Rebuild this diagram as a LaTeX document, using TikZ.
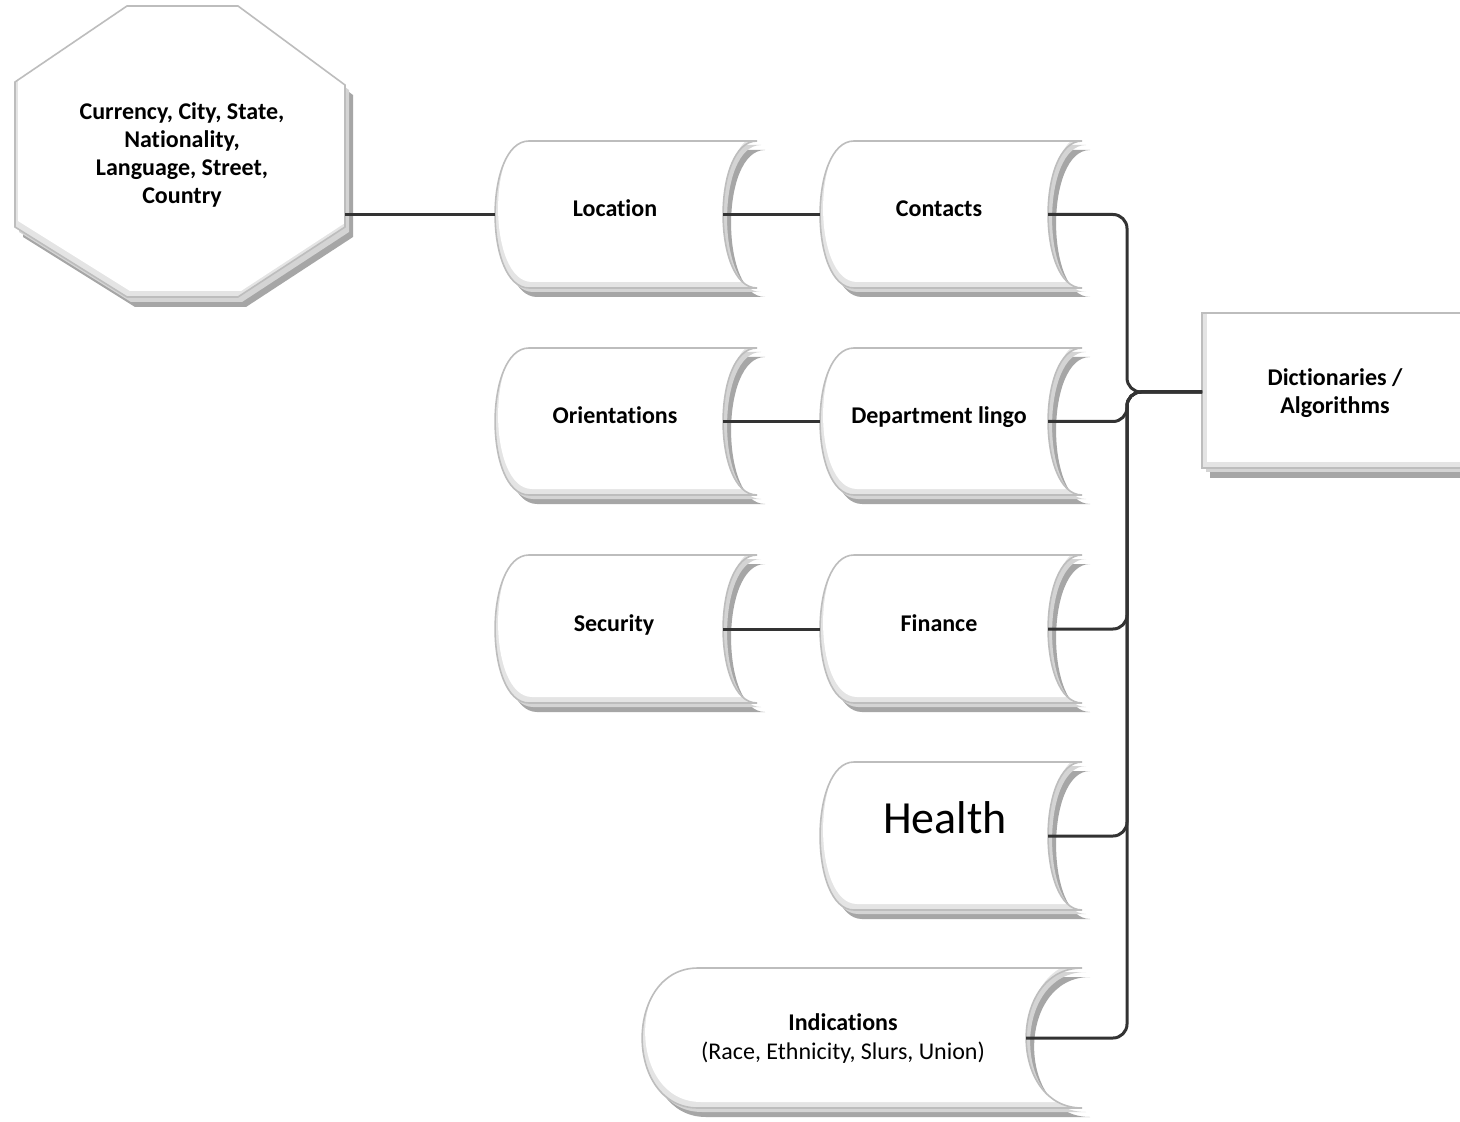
\documentclass[tikz,border=0pt]{standalone}
\usepackage{fontspec}
\setmainfont{Carlito}[Ligatures=NoCommon]
\definecolor{shdark}{HTML}{A6A6A6}
\definecolor{shlight}{HTML}{D4D4D4}
\definecolor{rimgray}{HTML}{E4E4E4}
\definecolor{edgegray}{HTML}{BDBDBD}
\definecolor{conncol}{HTML}{333333}
\tikzset{
  lbl/.style={font=\bfseries\fontsize{12}{14}\selectfont, align=center, inner sep=0pt},
  onelbl/.style={lbl, text height=8.6pt, text depth=2.6pt},
  plainlbl/.style={font=\fontsize{12}{14}\selectfont, align=center, inner sep=0pt, text height=8.6pt, text depth=2.6pt},
  conn/.style={draw=conncol, line width=1.5pt, rounded corners=7pt},
  outl/.style={draw=edgegray, line width=0.8pt}
}
% stored-data path: L T R B d
\newcommand\stpath[5]{(#1+#5,#2) -- (#3,#2) .. controls ({#3-1.33*#5},#2) and ({#3-1.33*#5},#4) .. (#3,#4) -- (#1+#5,#4) .. controls ({#1-0.33*#5},#4) and ({#1-0.33*#5},#2) .. (#1+#5,#2) -- cycle}
% store shape: name L T R B d
\newcommand\storeshape[6]{%
  \fill[shdark, shift={(8,9)}] \stpath{#2}{#3}{#4}{#5}{#6};
  \fill[shlight, shift={(4,4)}] \stpath{#2}{#3}{#4}{#5}{#6};
  \fill[rimgray] \stpath{#2}{#3}{#4}{#5}{#6};
  \begin{scope}
    \clip \stpath{#2}{#3}{#4}{#5}{#6};
    \fill[white, shift={(3,-6)}] \stpath{#2}{#3}{#4}{#5}{#6};
  \end{scope}
  \draw[outl] \stpath{#2}{#3}{#4}{#5}{#6};
  \coordinate (#1-w) at (#2,{(#3+#5)/2});
  \coordinate (#1-e) at ({#4-#6},{(#3+#5)/2});
}
\begin{document}
\begin{tikzpicture}[x=0.5pt, y=-0.5pt]
\useasboundingbox (0,0) rectangle (1460,1122);
\fill[white] (0,0) rectangle (1460,1122);

% octagon
\newcommand\octpath{(127,6) -- (238,6) -- (345,85) -- (345,227) -- (238,297) -- (127,297) -- (15,227) -- (15,82) -- cycle}
\fill[shdark, shift={(8,10)}] \octpath;
\fill[shlight, shift={(4,5)}] \octpath;
\fill[rimgray] \octpath;
\begin{scope}
  \clip \octpath;
  \fill[white, shift={(3,-6)}] \octpath;
\end{scope}
\draw[outl] \octpath;
\node[lbl] (oct) at (182,155) {Currency, City, State,\\Nationality,\\Language, Street,\\Country};
\coordinate (oct-e) at (345,214.5);

% dictionaries box
\fill[shdark] (1210,323) rectangle (1470,478);
\fill[shlight] (1206,317) rectangle (1464,472);
\fill[rimgray] (1202,313) rectangle (1462,468);
\fill[white] (1207,313) rectangle (1462,462);
\draw[outl] (1202,313) rectangle (1462,468);
\node[lbl] (dict) at (1335,393) {Dictionaries /\\Algorithms};
\coordinate (dict-w) at (1202,392);

% stored-data shapes
\storeshape{loc}{495}{141}{757}{288}{34}
\storeshape{cont}{820}{141}{1082}{288}{34}
\storeshape{ori}{495}{348}{757}{495}{34}
\storeshape{dept}{820}{348}{1082}{495}{34}
\storeshape{sec}{495}{555}{757}{703}{34}
\storeshape{fin}{820}{555}{1082}{703}{34}
\storeshape{hea}{820}{762}{1082}{910}{34}
\storeshape{ind}{642}{968}{1082}{1108}{56}

\node[onelbl] (loctxt) at (615,211) {Location};
\node[onelbl] (conttxt) at (939,211) {Contacts};
\node[onelbl] (oritxt) at (615,418) {Orientations};
\node[onelbl] (depttxt) at (939,418) {Department lingo};
\node[onelbl] (sectxt) at (614,625) {Security};
\node[onelbl] (fintxt) at (939,625) {Finance};
\node[font=\fontsize{23}{28}\selectfont, inner sep=0pt] (heatxt) at (945,818) {Health};
\node[onelbl] (indtxt) at (843,1024) {Indications};
\node[plainlbl] (indsub) at (843,1053) {(Race, Ethnicity, Slurs, Union)};

% connectors
\coordinate (bus) at (1127,392);
\draw[conn] (oct-e) -- (loc-w);
\draw[conn] (loc-e) -- (cont-w);
\draw[conn] (ori-e) -- (dept-w);
\draw[conn] (sec-e) -- (fin-w);
\draw[conn] (cont-e) -- (cont-e -| bus) -- (bus) -- (dict-w);
\draw[conn] (dept-e) -- (dept-e -| bus) -- (bus) -- (dict-w);
\draw[conn] (fin-e) -- (fin-e -| bus) -- (bus) -- (dict-w);
\draw[conn] (hea-e) -- (hea-e -| bus) -- (bus) -- (dict-w);
\draw[conn] (ind-e) -- (ind-e -| bus) -- (bus) -- (dict-w);
\end{tikzpicture}
\end{document}
